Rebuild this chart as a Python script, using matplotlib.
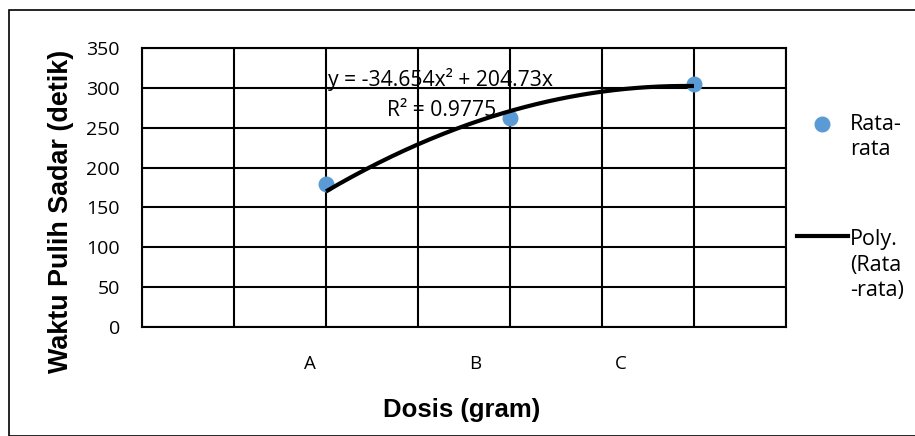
import matplotlib
matplotlib.use("Agg")
import matplotlib.pyplot as plt
import numpy as np
from matplotlib.patches import Rectangle
from matplotlib.lines import Line2D

# data
x_pos = [1, 2, 3]
rata_rata = [180, 262, 305]
cat_labels = ["A", "B", "C"]
cat_label_pos = [0.91, 1.81, 2.6]
coef_a = -34.654
coef_b = 204.73
r2 = 0.9775
y_ticks = [0, 50, 100, 150, 200, 250, 300, 350]

plt.rcParams['font.family'] = ['Open Sans', 'DejaVu Sans']

fig = plt.figure(figsize=(9.15, 4.36), dpi=100)
fig.patches.append(Rectangle((9/915, 0), 1, 1 - 10/436, transform=fig.transFigure,
                             fill=False, edgecolor='black', linewidth=1.2))

ax = fig.add_axes([142/915, 1 - 327/436, 644/915, 279/436])
ax.set_xlim(0, 3.5)
ax.set_ylim(0, 350)
ax.set_xticks(np.arange(0, 3.51, 0.5), minor=True)
ax.set_xticks(cat_label_pos)
ax.set_xticklabels(cat_labels, fontsize=13.5)
ax.set_yticks(y_ticks)
ax.set_yticklabels([str(v) for v in y_ticks], fontsize=14)
ax.tick_params(axis='both', which='both', length=0)
ax.tick_params(axis='x', pad=20)
ax.tick_params(axis='y', pad=16)
ax.grid(True, which='minor', axis='x', color='black', linewidth=1.5)
ax.grid(True, which='major', axis='y', color='black', linewidth=1.5)
for s in ax.spines.values():
    s.set_color('black')
    s.set_linewidth(1.5)
ax.set_axisbelow(True)

xx = np.linspace(x_pos[0], x_pos[-1], 200)
yy = coef_a * xx**2 + coef_b * xx
ax.scatter(x_pos, rata_rata, s=110, color='#5b9bd5', zorder=3, clip_on=False)
ax.plot(xx, yy, color='black', linewidth=3, zorder=4, solid_capstyle='butt')

ax.text(1.01, 310, "y = -34.654x² + 204.73x", fontsize=15.2, ha='left', va='center', zorder=5)
ax.text(1.33, 272, f"R² = {r2}", fontsize=15.2, ha='left', va='center', zorder=5)

ax.set_xlabel("Dosis (gram)", fontsize=18.5, fontweight='bold', family='Liberation Sans')
ax.set_ylabel("Waktu Pulih Sadar (detik)", fontsize=19.4, fontweight='bold', family='Liberation Sans')
ax.xaxis.set_label_coords(462/915, 1 - 410/436, transform=fig.transFigure)
ax.yaxis.set_label_coords(61/915, 1 - 211/436, transform=fig.transFigure)
ax.xaxis.label.set_va('center')
ax.yaxis.label.set_va('center')

# legend
fig.add_artist(Line2D([822/915], [1 - 124/436], marker='o', markersize=10.5,
                      color='#5b9bd5', linestyle='none', transform=fig.transFigure))
fig.text(850/915, 1 - 137/436, "Rata-\nrata", fontsize=15.5, va='center', ha='left', linespacing=1.2)
fig.add_artist(Line2D([797/915, 848/915], [1 - 236/436, 1 - 236/436], color='black',
                      linewidth=3, transform=fig.transFigure))
fig.text(850/915, 1 - 265/436, "Poly.\n(Rata\n-rata)", fontsize=15.5, va='center', ha='left', linespacing=1.3)

fig.savefig("out.png", dpi=100)
